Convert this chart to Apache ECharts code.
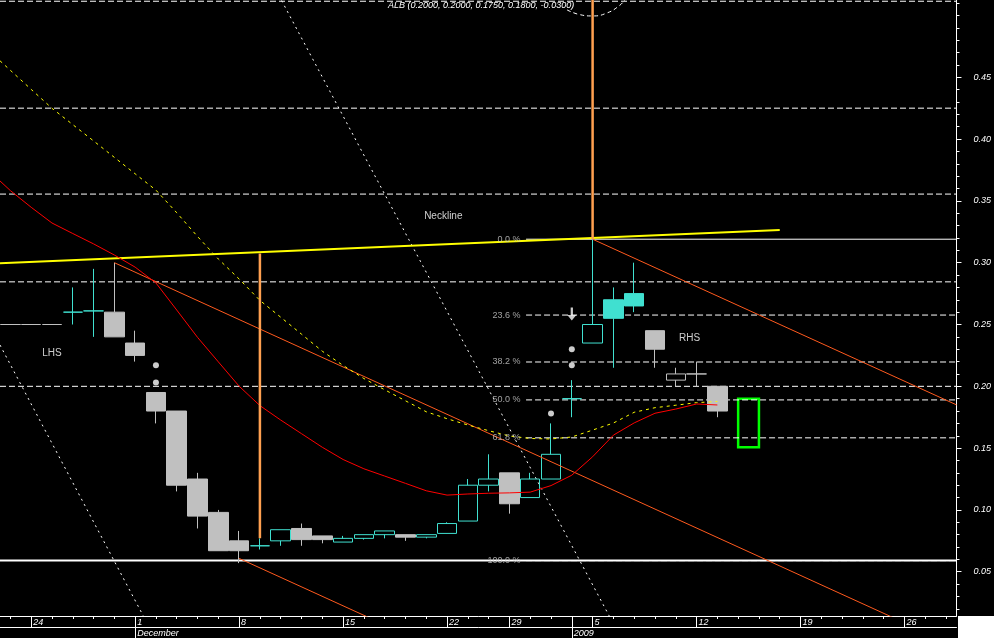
<!DOCTYPE html>
<html><head><meta charset="utf-8">
<script src="https://cdn.jsdelivr.net/npm/echarts@6/dist/echarts.min.js"></script>
<style>html,body{margin:0;padding:0;background:#000;}#c{width:994px;height:638px;}</style>
</head><body><div id="c"></div>
<script>
// ---- data ----
const ticker = 'ALB';
const days = ['2008-11-21','2008-11-24','2008-11-25','2008-11-26','2008-11-27','2008-11-28',
 '2008-12-01','2008-12-02','2008-12-03','2008-12-04','2008-12-05',
 '2008-12-08','2008-12-09','2008-12-10','2008-12-11','2008-12-12',
 '2008-12-15','2008-12-16','2008-12-17','2008-12-18','2008-12-19',
 '2008-12-22','2008-12-23','2008-12-24','2008-12-29','2008-12-30','2008-12-31',
 '2009-01-02','2009-01-05','2009-01-06','2009-01-07','2009-01-08','2009-01-09',
 '2009-01-12','2009-01-13','2009-01-14','2009-01-15','2009-01-16',
 '2009-01-19','2009-01-20','2009-01-21','2009-01-22','2009-01-23',
 '2009-01-26','2009-01-27','2009-01-28'];
const opens  = [0.25,0.25,0.25,0.26,0.261,0.26,0.235,0.195,0.18,0.125,0.098,0.075,0.071,0.075,0.085,0.079,0.074,0.077,0.080,0.080,0.078,0.081,0.091,0.120,0.130,0.110,0.125,0.19,0.235,0.27,0.275,0.245,0.205,0.21,0.20];
const highs  = [0.25,0.25,0.25,0.28,0.295,0.30,0.245,0.195,0.18,0.13,0.10,0.083,0.077,0.084,0.089,0.079,0.079,0.080,0.083,0.080,0.080,0.090,0.125,0.145,0.130,0.130,0.170,0.205,0.32,0.28,0.30,0.245,0.215,0.22,0.20];
const lows   = [0.25,0.25,0.25,0.25,0.24,0.24,0.22,0.17,0.115,0.085,0.067,0.057,0.068,0.071,0.071,0.073,0.074,0.076,0.077,0.075,0.077,0.081,0.091,0.115,0.097,0.110,0.125,0.175,0.235,0.215,0.26,0.215,0.20,0.20,0.175];
const closes = [0.25,0.25,0.25,0.26,0.261,0.24,0.225,0.18,0.12,0.095,0.067,0.067,0.071,0.084,0.076,0.076,0.077,0.080,0.083,0.078,0.080,0.089,0.120,0.125,0.105,0.125,0.145,0.19,0.25,0.255,0.265,0.23,0.21,0.21,0.18];
const prevCloseBeforeLast = 0.21;
// moving averages, first value belongs to the trading day before the first category (index -1)
const maStart = -1;
const redMA = [0.3739,0.3583,0.3448,0.3321,0.3236,0.3152,0.3062,0.2964,0.2836,0.2617,0.2396,0.2198,0.2001,0.1844,0.1727,0.1617,0.1507,0.1408,0.1333,0.1274,0.1215,0.1155,0.112,0.1129,0.1135,0.1138,0.1144,0.1197,0.1281,0.143,0.1605,0.1704,0.1782,0.1816,0.1857,0.1849];
const yellowMA = [0.471,0.4556,0.4402,0.4249,0.4117,0.3985,0.3852,0.3719,0.3587,0.3404,0.3212,0.303,0.2868,0.2695,0.2559,0.2422,0.2284,0.2169,0.2063,0.1972,0.1883,0.1794,0.1738,0.1687,0.1641,0.1598,0.1578,0.1574,0.159,0.1646,0.1703,0.179,0.1827,0.1847,0.1868,0.1877];
// y axis
const yMin = 0.0142, yMax = 0.5125;
const yLabels = [0.05,0.10,0.15,0.20,0.25,0.30,0.35,0.40,0.45];
const yMinor = [0.02,0.03,0.04,0.05,0.06,0.07,0.08,0.09,0.10,0.11,0.12,0.13,0.14,0.15,0.16,0.17,0.18,0.19,0.20,0.21,0.22,0.23,0.24,0.25,0.26,0.27,0.28,0.29,0.30,0.31,0.32,0.33,0.34,0.35,0.36,0.37,0.38,0.39,0.40,0.41,0.42,0.43,0.44,0.45,0.46,0.47,0.48,0.49,0.50,0.51];
const monthNames = ['January','February','March','April','May','June','July','August','September','October','November','December'];
// horizontal levels
const dashedLevels = [0.5115, 0.425, 0.3555, 0.2845, 0.20];
const supportLevel = 0.059;
const fibHigh = 0.319, fibLow = 0.059;
const fibPcts = [0, 0.236, 0.382, 0.5, 0.618, 1.0];
const fibStart = 24.8;
// trendlines as [index, price] pairs
const neckline = [[-0.5, 0.2995],[37, 0.3265]];
const channelA = [[5, 0.30],[43, 0.0087]];
const channelB = [[28, 0.319],[45.5, 0.185]];
const channelC = [[11, 0.0608],[18, 0.0071]];
const measure1 = [[12, 0.3075],[12, 0.077]];
const measure2 = [[28, 0.319],[28, 0.55]];
const diag1 = [[12.5, 0.5292],[29, 0.0079]];
const diag2 = [[-0.5, 0.2334],[6.5, 0.0108]];
const arcX = [26.77, 27.35, 28.02, 28.69, 29.27, 29.55];
const arcY = [0.5045, 0.5008, 0.4996, 0.502, 0.5077, 0.5125];
const boxX = [35, 36];
const boxY = [0.19, 0.1507];
// markers
const dotX = [7, 7, 27, 27, 26];
const dotY = [0.217, 0.203, 0.230, 0.217, 0.178];
const arrowX = [27];
const arrowY = [0.2585];
const noteText = ['Neckline','LHS','RHS'];
const noteX = [20.82, 2.0, 32.66];
const noteY = [0.3378, 0.227, 0.239];

// ---- chart ----
const CYAN = '#40e0d0', GRAY = '#c0c0c0', WHITE = '#ffffff';
const FONT = 'Liberation Sans';
const dt = days.map(d => new Date(d + 'T00:00:00'));
const isMonday = i => dt[i].getDay() === 1;
const isMonthStart = i => i > 0 && dt[i].getMonth() !== dt[i-1].getMonth();

const candleData = closes.map((c, i) => {
  const col = (i > 0 && c > closes[i-1]) ? CYAN : GRAY;
  const fill = c > opens[i] ? 'rgba(0,0,0,0)' : col;
  return {value: [opens[i], c, lows[i], highs[i]],
    itemStyle: {color: fill, color0: fill, borderColor: col, borderColor0: col, borderColorDoji: col}};
});

const L = closes.length - 1;
const titleText = `${ticker} (${opens[L].toFixed(4)}, ${highs[L].toFixed(4)}, ${lows[L].toFixed(4)}, ${closes[L].toFixed(4)}, ${(closes[L]-prevCloseBeforeLast).toFixed(4)})`;

function seg(pts, color, width, type, z, smooth) {
  return {type: 'line', xAxisIndex: 3, yAxisIndex: 0, data: pts, symbol: 'none', smooth: !!smooth,
    lineStyle: {color, width, type: type || 'solid'}, silent: true, z: z || 3, clip: true};
}

const series = [];
series.push({type: 'candlestick', xAxisIndex: 0, yAxisIndex: 0, data: candleData, barWidth: 20,
  itemStyle: {borderWidth: 1}, z: 2, silent: true});
dashedLevels.forEach(v => series.push(seg([[-0.5, v],[45.5, v]], WHITE, 1, [6,3], 1)));
fibPcts.forEach(p => {
  const v = fibHigh - p * (fibHigh - fibLow);
  series.push(seg([[fibStart, v],[45.5, v]], WHITE, 1, p === 0 ? 'solid' : [6,3], 1));
});
series.push(seg([[-0.5, supportLevel],[45.5, supportLevel]], WHITE, 2, 'solid', 1));
series.push(seg(diag1, WHITE, 1, [2,4], 1));
series.push(seg(diag2, WHITE, 1, [2,4], 1));
series.push(seg(arcX.map((x,i)=>[x, arcY[i]]), WHITE, 1, [4,3], 1, true));
series.push(seg(neckline, '#ffff00', 2, 'solid', 4));
series.push(seg(channelA, '#ff5a1e', 1, 'solid', 4));
series.push(seg(channelB, '#ff5a1e', 1, 'solid', 4));
series.push(seg(channelC, '#ff5a1e', 1, 'solid', 4));
series.push(seg(measure1, '#ffa050', 2.5, 'solid', 5));
series.push(seg(measure2, '#ffa050', 2.5, 'solid', 5));
series.push(seg(yellowMA.map((v,i)=>[i+maStart, v]), '#ffff00', 1, [3,4], 4));
series.push(seg(redMA.map((v,i)=>[i+maStart, v]), '#ff0000', 1, 'solid', 4));
series.push({type: 'scatter', xAxisIndex: 3, yAxisIndex: 0, data: dotX.map((x,i)=>[x, dotY[i]]),
  symbol: 'circle', symbolSize: 6, itemStyle: {color: WHITE}, silent: true, z: 6,
  markArea: {silent: true, label: {show: false},
    itemStyle: {color: 'rgba(0,0,0,0)', borderColor: '#00ff00', borderWidth: 2.5},
    data: [[{coord: [boxX[0], boxY[0]]}, {coord: [boxX[1], boxY[1]]}]]}});
series.push({type: 'scatter', xAxisIndex: 3, yAxisIndex: 0, data: arrowX.map((x,i)=>[x, arrowY[i]]),
  symbol: 'path://M3,0 L5,0 L5,7 L8,7 L4,12 L0,7 L3,7 Z', symbolSize: [9, 13],
  itemStyle: {color: WHITE}, silent: true, z: 6});
series.push({type: 'scatter', xAxisIndex: 3, yAxisIndex: 0, symbolSize: 1, itemStyle: {color: 'rgba(0,0,0,0)'},
  data: noteText.map((t,i)=>({value: [noteX[i], noteY[i]], label: {formatter: t}})),
  label: {show: true, position: 'inside', color: WHITE, fontSize: 10, fontFamily: FONT}, silent: true, z: 7});
series.push({type: 'scatter', xAxisIndex: 3, yAxisIndex: 0, symbolSize: 1, itemStyle: {color: 'rgba(0,0,0,0)'},
  data: fibPcts.map(p => ({value: [fibStart, fibHigh - p*(fibHigh-fibLow)], label: {formatter: (p*100).toFixed(1) + ' %'}})),
  label: {show: true, position: 'left', distance: 5, color: '#c8c8c8', fontSize: 9, fontFamily: FONT}, silent: true, z: 7});

const axisWhite = {color: WHITE, width: 1};
const option = {
  backgroundColor: '#000000',
  animation: false,
  textStyle: {fontFamily: FONT},
  title: {text: titleText, left: 388, top: 1, padding: 0,
    textStyle: {color: WHITE, fontSize: 9, fontStyle: 'italic', fontWeight: 'normal', fontFamily: FONT}},
  grid: {left: 0, right: 36, top: 0, bottom: 22, containLabel: false},
  xAxis: [
    {type: 'category', data: days, position: 'bottom', boundaryGap: true,
     axisLine: {show: true, onZero: false, lineStyle: axisWhite},
     axisTick: {show: true, alignWithLabel: true, interval: 0, length: 3, lineStyle: axisWhite},
     axisLabel: {show: false}, splitLine: {show: false}},
    {type: 'category', data: days, position: 'bottom', boundaryGap: true,
     axisLine: {show: false, onZero: false},
     axisTick: {show: true, alignWithLabel: true, interval: i => isMonday(i) || isMonthStart(i), length: 11, lineStyle: axisWhite},
     axisLabel: {show: true, interval: i => isMonday(i), formatter: v => String(Number(v.slice(8))),
       align: 'left', padding: [0,0,0,2], margin: 2, color: WHITE, fontSize: 9, fontStyle: 'italic'},
     splitLine: {show: false}},
    {type: 'category', data: days, position: 'bottom', offset: 11, boundaryGap: true,
     axisLine: {show: true, onZero: false, lineStyle: axisWhite},
     axisTick: {show: true, alignWithLabel: true, interval: i => isMonthStart(i), length: 11, lineStyle: axisWhite},
     axisLabel: {show: true, interval: i => isMonthStart(i),
       formatter: (v) => { const d = new Date(v + 'T00:00:00'); return d.getMonth() === 0 ? String(d.getFullYear()) : monthNames[d.getMonth()]; },
       align: 'left', padding: [0,0,0,2], margin: 2, color: WHITE, fontSize: 9, fontStyle: 'italic'},
     splitLine: {show: false}},
    {type: 'value', min: -0.5, max: 45.5, show: false, axisLine: {onZero: false}}
  ],
  yAxis: [
    {type: 'value', position: 'right', min: yMin, max: yMax, scale: true,
     axisLine: {show: true, onZero: false, lineStyle: axisWhite},
     axisTick: {show: true, length: 5, customValues: yLabels, lineStyle: axisWhite},
     axisLabel: {show: true, customValues: yLabels, formatter: v => v.toFixed(2), color: WHITE, fontSize: 9, fontStyle: 'italic', margin: 17},
     splitLine: {show: false}},
    {type: 'value', position: 'right', min: yMin, max: yMax, scale: true,
     axisLine: {show: false, onZero: false},
     axisTick: {show: true, length: 3, customValues: yMinor, lineStyle: axisWhite},
     axisLabel: {show: false}, splitLine: {show: false}}
  ],
  graphic: [{type: 'rect', right: 0, bottom: 0, shape: {width: 36, height: 22}, style: {fill: '#ffffff'}, silent: true}],
  series
};
const chart = echarts.init(document.getElementById('c'), null, {renderer: 'canvas'});
chart.setOption(option);
</script></body></html>
